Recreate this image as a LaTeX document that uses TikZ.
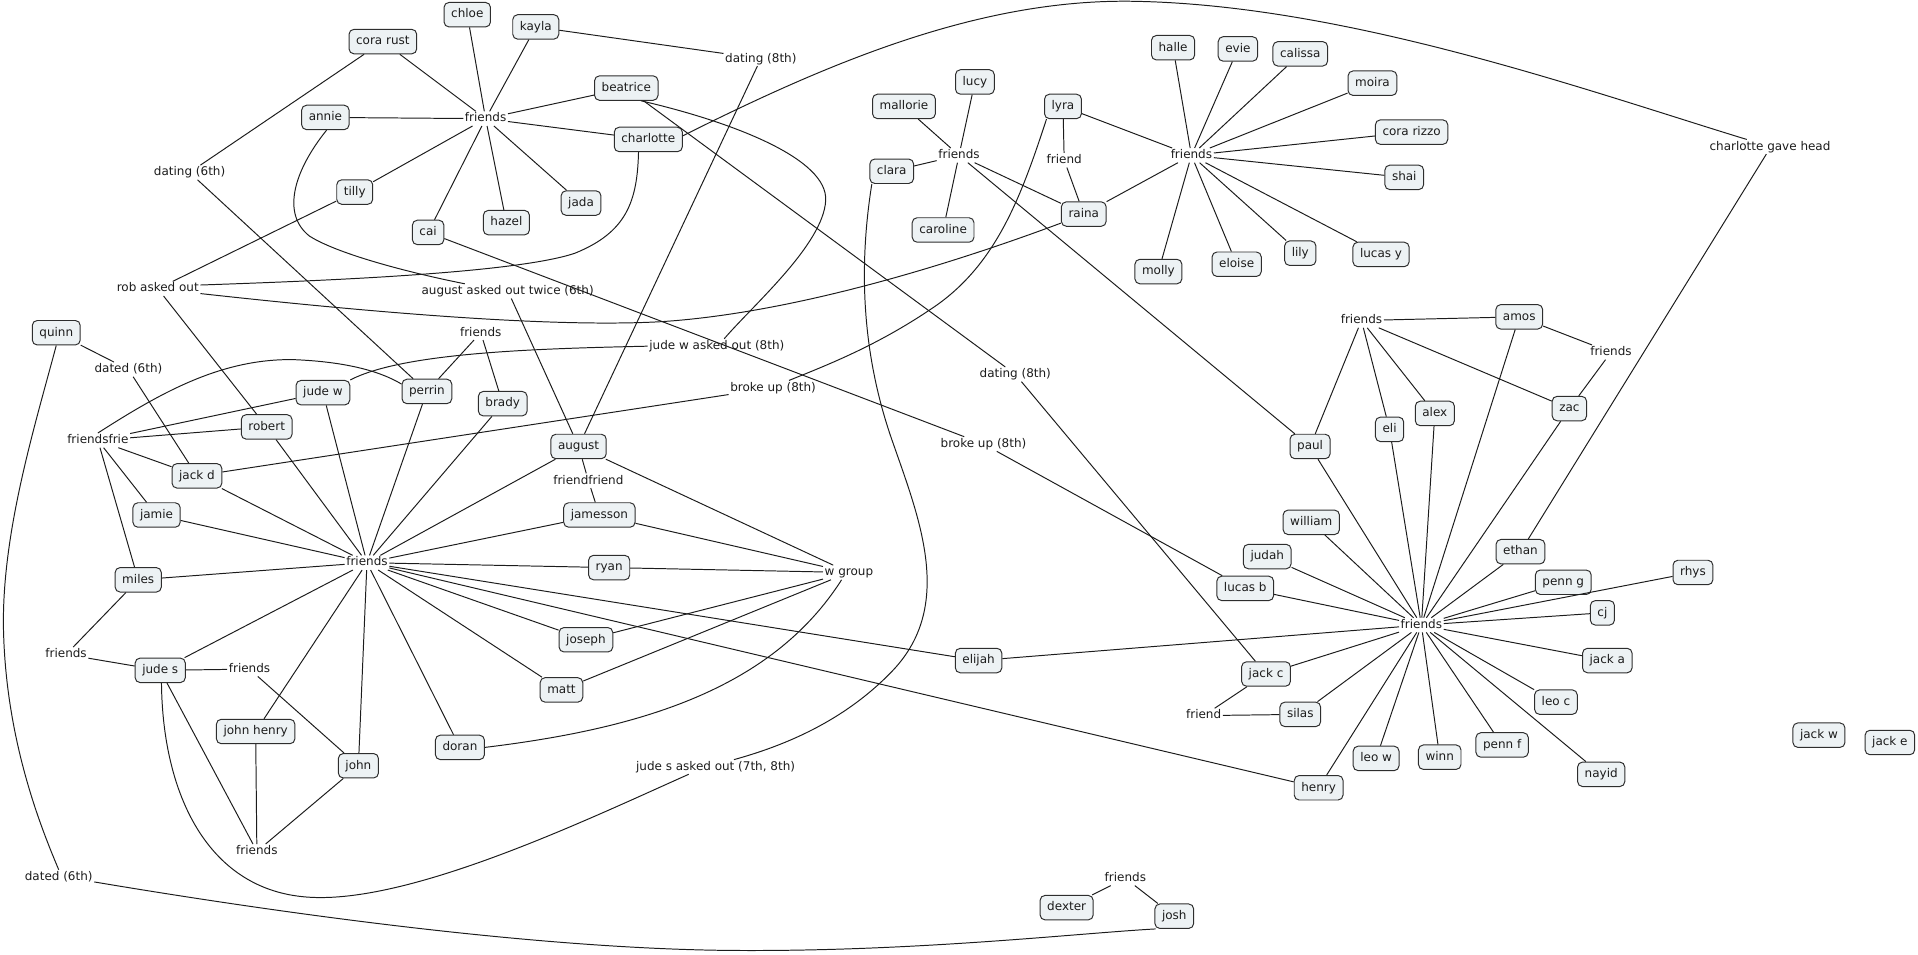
\documentclass[tikz,border=0pt]{standalone}
\usepackage{fontspec}
\setmainfont{DejaVu Sans}
\definecolor{boxfill}{HTML}{EDF2F4}
\definecolor{boxline}{HTML}{2E2E2E}
\definecolor{ink}{HTML}{1C1C1C}
\newcommand\labfont{\fontsize{9.8pt}{11pt}\selectfont}
\begin{document}
\begin{tikzpicture}[x=1pt,y=-1pt,
  box/.style={draw=boxline, fill=boxfill, rounded corners=4pt, line width=0.8pt,
    inner xsep=5.8pt, inner ysep=0pt, minimum height=20pt, font=\labfont, text=ink,
    text height=7.3pt, text depth=1.9pt},
  lbl/.style={inner sep=1.2pt, font=\labfont, text=ink, text height=7.3pt, text depth=1.9pt},
  conn/.style={draw=ink, line width=0.8pt}]
\useasboundingbox (0,0) rectangle (1568,780);

% ---------- boxes ----------
\node[box] (chloe) at (382,12) {chloe};
\node[box] (kayla) at (438,22) {kayla};
\node[box] (corarust) at (313,34) {cora rust};
\node[box] (annie) at (266,96) {annie};
\node[box] (beatrice) at (512,72) {beatrice};
\node[box] (charlotte) at (530,114) {charlotte};
\node[box] (tilly) at (290,157) {tilly};
\node[box] (cai) at (350,190) {cai};
\node[box] (hazel) at (414,182) {hazel};
\node[box] (jada) at (475,166) {jada};
\node[box] (lucy) at (797,67) {lucy};
\node[box] (mallorie) at (739,87) {mallorie};
\node[box] (lyra) at (869,87) {lyra};
\node[box] (clara) at (729,140) {clara};
\node[box] (raina) at (886,175) {raina};
\node[box] (caroline) at (771,188) {caroline};
\node[box] (halle) at (959,39) {halle};
\node[box] (evie) at (1012,40) {evie};
\node[box] (calissa) at (1063,44) {calissa};
\node[box] (moira) at (1122,68) {moira};
\node[box] (corarizzo) at (1154,108) {cora rizzo};
\node[box] (shai) at (1148,145) {shai};
\node[box] (molly) at (947,222) {molly};
\node[box] (eloise) at (1011,216) {eloise};
\node[box] (lily) at (1063,207) {lily};
\node[box] (lucasy) at (1129,208) {lucas y};
\node[box] (amos) at (1242,259) {amos};
\node[box] (zac) at (1283,334) {zac};
\node[box] (alex) at (1173,338) {alex};
\node[box] (eli) at (1136,351) {eli};
\node[box] (paul) at (1071,365) {paul};
\node[box] (william) at (1072,427) {william};
\node[box] (judah) at (1036,455) {judah};
\node[box] (lucasb) at (1018,481) {lucas b};
\node[box] (ethan) at (1243,451) {ethan};
\node[box] (penng) at (1278,476) {penn g};
\node[box] (rhys) at (1384,468) {rhys};
\node[box] (cj) at (1310,501) {cj};
\node[box] (jacka) at (1314,540) {jack a};
\node[box] (leoc) at (1272,574) {leo c};
\node[box] (jackc) at (1035,551) {jack c};
\node[box] (silas) at (1063,584) {silas};
\node[box] (henry) at (1078,644) {henry};
\node[box] (leow) at (1125,620) {leo w};
\node[box] (winn) at (1177,619) {winn};
\node[box] (pennf) at (1228,609) {penn f};
\node[box] (nayid) at (1309,633) {nayid};
\node[box] (jackw) at (1487,601) {jack w};
\node[box] (jacke) at (1545,607) {jack e};
\node[box] (elijah) at (800,540) {elijah};
\node[box] (dexter) at (872,742) {dexter};
\node[box] (josh) at (960,749) {josh};
\node[box] (quinn) at (46,272) {quinn};
\node[box] (judew) at (264,321) {jude w};
\node[box] (perrin) at (349,320) {perrin};
\node[box] (brady) at (411,330) {brady};
\node[box] (robert) at (218,349) {robert};
\node[box] (jackd) at (161,389) {jack d};
\node[box] (august) at (473,365) {august};
\node[box] (jamesson) at (490,421) {jamesson};
\node[box] (jamie) at (128,421) {jamie};
\node[box] (miles) at (113,474) {miles};
\node[box] (ryan) at (498,464) {ryan};
\node[box] (joseph) at (479,523) {joseph};
\node[box] (matt) at (459,564) {matt};
\node[box] (judes) at (131,548) {jude s};
\node[box] (johnhenry) at (209,598) {john henry};
\node[box] (john) at (293,626) {john};
\node[box] (doran) at (376,611) {doran};

% ---------- labels ----------
\node[lbl] (h1) at (397,97) {friends};
\node[lbl] (dating6) at (155,141) {dating (6th)};
\node[lbl] (robasked) at (129,236) {rob asked out};
\node[lbl] (augasked) at (415,238) {august asked out twice (6th)};
\node[lbl] (dating8a) at (622,48) {dating (8th)};
\node[lbl] (hL) at (784,127) {friends};
\node[lbl] (friendLR) at (870,131) {friend};
\node[lbl] (hR) at (974,127) {friends};
\node[lbl] (cgh) at (1447,120) {charlotte gave head};
\node[lbl] (hA) at (1113,262) {friends};
\node[lbl] (hAZ) at (1317,288) {friends};
\node[lbl] (dated6a) at (105,302) {dated (6th)};
\node[lbl] (hPB) at (393,272) {friends};
\node[lbl] (ffrie) at (80,360) {friendsfrie};
\node[lbl] (ff) at (481,393) {friendfriend};
\node[lbl] (h2) at (300,460) {friends};
\node[lbl] (jwasked) at (586,283) {jude w asked out (8th)};
\node[lbl] (broke1) at (632,317) {broke up (8th)};
\node[lbl] (dating8b) at (830,306) {dating (8th)};
\node[lbl] (broke2) at (804,363) {broke up (8th)};
\node[lbl] (wgroup) at (694,468) {w group};
\node[lbl] (h3) at (1162,511) {friends};
\node[lbl] (hS) at (54,535) {friends};
\node[lbl] (hJS) at (204,547) {friends};
\node[lbl] (hJ) at (210,696) {friends};
\node[lbl] (dated6b) at (48,717) {dated (6th)};
\node[lbl] (jsasked) at (585,627) {jude s asked out (7th, 8th)};
\node[lbl] (friendJC) at (984,585) {friend};
\node[lbl] (hDJ) at (920,718) {friends};

% ---------- straight connectors ----------
\foreach \n in {corarust,chloe,kayla,annie,beatrice,charlotte,tilly,cai,hazel,jada}
  \draw[conn] (h1) -- (\n);
\draw[conn] (corarust) -- (dating6);
\draw[conn] (dating6) -- (perrin);
\draw[conn] (kayla) -- (dating8a);
\draw[conn] (dating8a) -- (august);
\draw[conn] (tilly) -- (robasked);
\draw[conn] (robasked) -- (robert);
\draw[conn] (cai) -- (broke2);
\draw[conn] (broke2) -- (lucasb);
\draw[conn] (beatrice) -- (dating8b);
\draw[conn] (dating8b) -- (jackc);
\draw[conn] ([xshift=3pt]augasked.south) -- (august);
\foreach \n in {mallorie,lucy,clara,caroline,raina,paul}
  \draw[conn] (hL) -- (\n);
\draw[conn] (lyra) -- (friendLR);
\draw[conn] (friendLR) -- (raina);
\foreach \n in {lyra,raina,halle,evie,calissa,moira,corarizzo,shai,lucasy,lily,eloise,molly}
  \draw[conn] (hR) -- (\n);
\foreach \n in {amos,paul,eli,alex,zac}
  \draw[conn] (hA) -- (\n);
\draw[conn] (amos) -- (hAZ);
\draw[conn] (hAZ) -- (zac);
\foreach \n in {paul,eli,alex,amos,zac,william,judah,lucasb,ethan,penng,rhys,cj,jacka,leoc,nayid,pennf,winn,leow,henry,silas,jackc,elijah}
  \draw[conn] (h3) -- (\n);
\draw[conn] (jackc) -- (friendJC);
\draw[conn] (friendJC) -- (silas);
\draw[conn] (dexter) -- (hDJ);
\draw[conn] (hDJ) -- (josh);
\draw[conn] (quinn) -- (dated6a);
\draw[conn] (dated6a) -- (jackd);
\draw[conn] (hPB) -- (perrin);
\draw[conn] (hPB) -- (brady);
\foreach \n in {judew,robert,jackd,jamie,miles}
  \draw[conn] (ffrie) -- (\n);
\draw[conn] (jackd) -- (broke1);
\foreach \n in {judew,perrin,brady,robert,jackd,jamie,miles,august,jamesson,ryan,joseph,matt,doran,john,johnhenry,judes,elijah,henry}
  \draw[conn] (h2) -- (\n);
\draw[conn] (august) -- (ff);
\draw[conn] (ff) -- (jamesson);
\foreach \n in {august,jamesson,ryan,joseph,matt}
  \draw[conn] (wgroup) -- (\n);
\draw[conn] (miles) -- (hS);
\draw[conn] (hS) -- (judes);
\draw[conn] (judes) -- (hJS);
\draw[conn] (hJS) -- (john);
\draw[conn] (judes) -- (hJ);
\draw[conn] (johnhenry) -- (hJ);
\draw[conn] (john) -- (hJ);
\draw[conn] ([xshift=-3pt]cgh.south) -- (ethan);

% ---------- curved connectors ----------
\draw[conn] ([xshift=-8pt]charlotte.south) .. controls (521,165) and (512,190) .. (470,207)
  .. controls (420,224) and (250,230) .. ([yshift=3pt]robasked.east);
\draw[conn] ([yshift=-4pt]robasked.east) .. controls (300,255) and (450,268) .. (540,263)
  .. controls (650,256) and (780,215) .. ([yshift=3pt]raina.south west);
\draw[conn] ([xshift=1pt]annie.south) .. controls (240,140) and (230,175) .. (253,193)
  .. controls (275,207) and (330,222) .. ([xshift=-35pt]augasked.north);
\draw[conn] ([xshift=12pt]beatrice.south) .. controls (600,100) and (677,130) .. (675,164)
  .. controls (673,200) and (615,250) .. ([xshift=6pt]jwasked.north);
\draw[conn] (jwasked.west) .. controls (440,285) and (330,288) .. (judew.north east);
\draw[conn] (ffrie.north) .. controls (130,322) and (180,293) .. (240,294)
  .. controls (290,296) and (315,306) .. ([yshift=6pt]perrin.west);
\draw[conn] (quinn.south) .. controls (28,350) and (0,440) .. (3,520)
  .. controls (6,610) and (35,680) .. (dated6b.north);
\draw[conn] ([yshift=-4pt]dated6b.east) .. controls (250,750) and (450,776) .. (600,777)
  .. controls (750,778) and (880,763) .. ([xshift=1pt]josh.south west);
\draw[conn] ([xshift=1pt]judes.south) .. controls (133,650) and (170,725) .. (247,733)
  .. controls (330,742) and (480,670) .. ([xshift=-22pt]jsasked.south);
\draw[conn] ([xshift=2pt]clara.south west) .. controls (700,230) and (708,300) .. (730,362)
  .. controls (752,425) and (780,495) .. (730,548)
  .. controls (690,590) and (640,610) .. ([xshift=15pt]jsasked.north);
\draw[conn] ([xshift=2pt]lyra.south west) .. controls (835,160) and (815,215) .. (765,250)
  .. controls (720,281) and (680,297) .. ([xshift=13pt]broke1.north);
\draw[conn] (doran.east) .. controls (520,596) and (630,565) .. ([xshift=-6pt]wgroup.south);
\draw[conn] ([yshift=3pt]charlotte.east) .. controls (680,50) and (800,0) .. (923,1)
  .. controls (1100,3) and (1300,75) .. ([xshift=-19pt]cgh.north);
\end{tikzpicture}
\end{document}
